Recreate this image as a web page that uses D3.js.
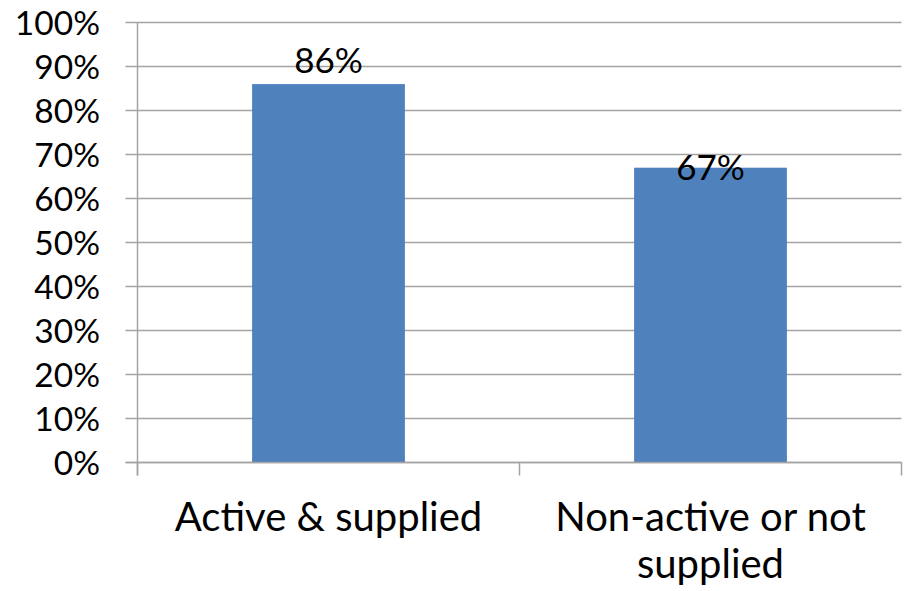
<!DOCTYPE html>
<html>
<head>
<meta charset="utf-8">
<script src="https://cdn.jsdelivr.net/npm/d3@7"></script>
<style>
  html, body { margin: 0; padding: 0; background: #fff; }
  svg { display: block; font-family: "Lato", "Open Sans", sans-serif; }
</style>
</head>
<body>
<svg id="chart" width="906" height="591"></svg>
<script>
// Share of respondents by group
const categories = ["Active & supplied", "Non-active or not supplied"];
const categoryLines = [["Active & supplied"], ["Non-active or not", "supplied"]];
const values = [86, 67];
const valueLabels = ["86%", "67%"];
const yTicks = [0, 10, 20, 30, 40, 50, 60, 70, 80, 90, 100];
const yTickLabels = ["0%", "10%", "20%", "30%", "40%", "50%", "60%", "70%", "80%", "90%", "100%"];

// Layout
const plot = { left: 137.5, right: 901.5, top: 22.5, bottom: 462.5 };
const gridColor = "#a3a3a3";
const barColor = "#4f81bd";
// vertical label offset from bar top (px, positive = downward)
const labelOffset = [-11, 12];

const svg = d3.select("#chart");

const x = d3.scaleBand()
  .domain(categories)
  .range([plot.left, plot.right])
  .paddingInner(0.6)
  .paddingOuter(0.3);

const y = d3.scaleLinear()
  .domain([0, 100])
  .range([plot.bottom, plot.top]);

// Horizontal gridlines with left tick marks
svg.append("g")
  .selectAll("line")
  .data(yTicks)
  .join("line")
  .attr("x1", plot.left - 12)
  .attr("x2", plot.right)
  .attr("y1", d => y(d))
  .attr("y2", d => y(d))
  .attr("stroke", gridColor)
  .attr("stroke-width", 1.5);

// Y axis labels
svg.append("g")
  .selectAll("text")
  .data(yTicks)
  .join("text")
  .attr("x", 100)
  .attr("y", d => y(d))
  .attr("dy", "0.36em")
  .attr("text-anchor", "end")
  .attr("font-size", 33.5)
  .attr("fill", "#000")
  .text((d, i) => yTickLabels[i]);

// Bars
svg.append("g")
  .selectAll("rect")
  .data(values)
  .join("rect")
  .attr("x", (d, i) => x(categories[i]))
  .attr("width", x.bandwidth())
  .attr("y", d => y(d))
  .attr("height", d => y(0) - y(d))
  .attr("fill", barColor);

// Vertical axis line
svg.append("line")
  .attr("x1", plot.left).attr("x2", plot.left)
  .attr("y1", plot.top).attr("y2", plot.bottom + 13)
  .attr("stroke", gridColor).attr("stroke-width", 1.5);

// Category boundary ticks
const step = (plot.right - plot.left) / categories.length;
svg.append("g")
  .selectAll("line")
  .data(d3.range(categories.length + 1))
  .join("line")
  .attr("x1", i => plot.left + i * step)
  .attr("x2", i => plot.left + i * step)
  .attr("y1", plot.bottom)
  .attr("y2", plot.bottom + 13)
  .attr("stroke", gridColor)
  .attr("stroke-width", 1.5);

// Redraw baseline over bars
svg.append("line")
  .attr("x1", plot.left - 12).attr("x2", plot.right)
  .attr("y1", y(0)).attr("y2", y(0))
  .attr("stroke", gridColor).attr("stroke-width", 1.5);

// Value labels
svg.append("g")
  .selectAll("text")
  .data(values)
  .join("text")
  .attr("x", (d, i) => x(categories[i]) + x.bandwidth() / 2)
  .attr("y", (d, i) => y(d) + labelOffset[i])
  .attr("text-anchor", "middle")
  .attr("font-size", 35)
  .attr("fill", "#000")
  .text((d, i) => valueLabels[i]);

// Category labels
svg.append("g")
  .selectAll("text")
  .data(categories)
  .join("text")
  .attr("x", d => x(d) + x.bandwidth() / 2)
  .attr("y", 531)
  .attr("text-anchor", "middle")
  .attr("font-size", 40)
  .attr("fill", "#000")
  .each(function(d, i) {
    const t = d3.select(this);
    categoryLines[i].forEach((line, j) => {
      t.append("tspan")
        .attr("x", x(d) + x.bandwidth() / 2)
        .attr("dy", j === 0 ? 0 : 47)
        .text(line);
    });
  });
</script>
</body>
</html>
